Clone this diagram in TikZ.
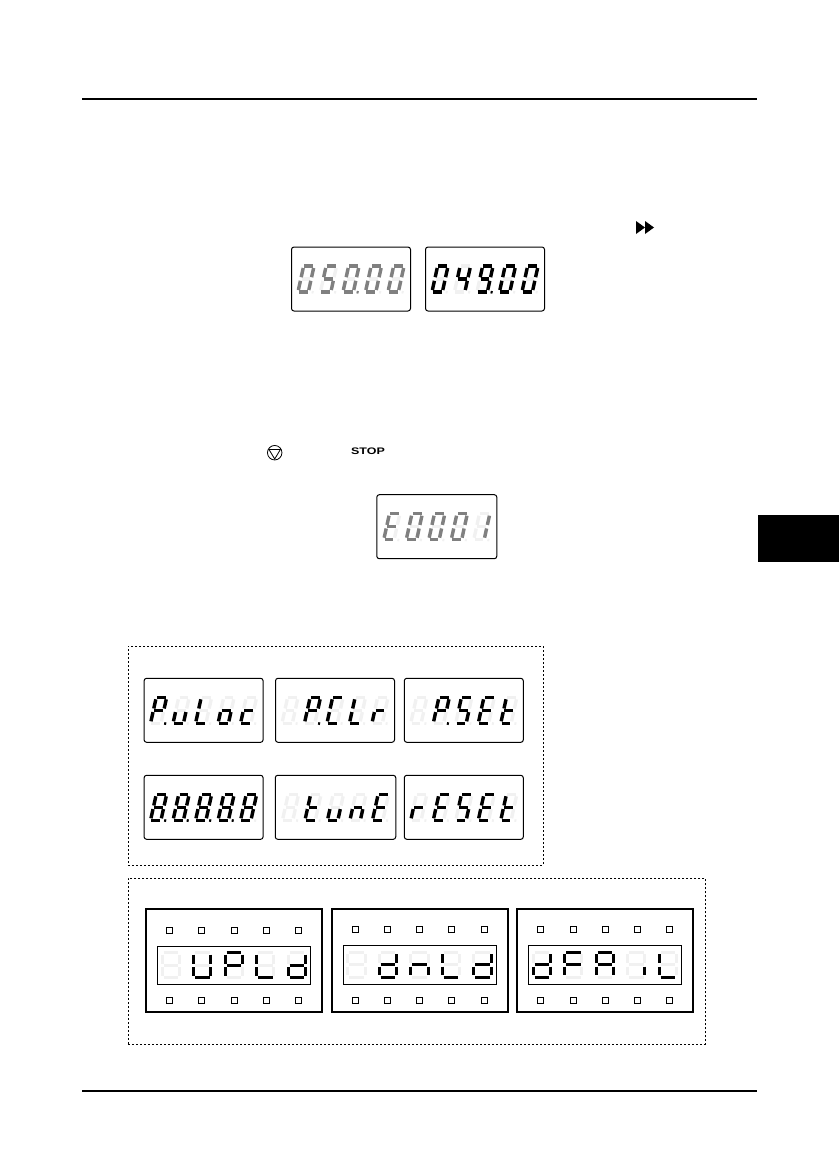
\documentclass[tikz,border=0pt]{standalone}
\usepackage{fontspec}
\setsansfont{Liberation Sans}
\usetikzlibrary{calc}

% segments of one seven-segment cell
\def\sega{\draw (-4.4,-13) -- (4.4,-13);}
\def\segb{\draw (5.2,-11) -- (5.2,-1.8);}
\def\segc{\draw (5.2,1.8) -- (5.2,11);}
\def\segd{\draw (-4.4,13) -- (4.4,13);}
\def\sege{\draw (-5.2,1.8) -- (-5.2,11);}
\def\segf{\draw (-5.2,-11) -- (-5.2,-1.8);}
\def\segg{\draw (-4.4,0) -- (4.4,0);}
\def\segp{\draw[line width=2pt] (9.5,12) -- (9.5,14.5);}
\def\segn{}

\newcommand{\ledcell}[4]{%
  \begin{scope}[shift={#1},#2,color=#3]
    \foreach \s in #4 {\csname seg\s\endcsname}
  \end{scope}}
\newcommand{\leddisp}[9][ledslant]{%
  \foreach \k/\segs in {-2/{#5},-1/{#6},0/{#7},1/{#8},2/{#9}} {
    \ledcell{($(#2.center)+(\k*#3,0)$)}{#1}{ledghost}{{a,b,c,d,e,f,g,p}}
    \ledcell{($(#2.center)+(\k*#3,0)$)}{#1}{#4}{\segs}
  }}

\definecolor{ledghost}{HTML}{F1F1F1}
\definecolor{ledgrey}{HTML}{808080}

\tikzset{
  ledslant/.style={xslant=.22,line width=3.4pt},
  ledflat/.style={xscale=1.65,yscale=.97,line width=2.9pt},
  dispbox/.style={draw,line width=1pt,rounded corners=2.5pt,inner sep=0pt,
    minimum width=119pt,minimum height=64pt},
  panelbox/.style={draw,line width=2pt,inner sep=0pt,
    minimum width=176pt,minimum height=103pt},
  panelglass/.style={draw,line width=1pt,inner sep=0pt,
    minimum width=153pt,minimum height=38.5pt},
  lamp/.style={draw,line width=1pt,inner sep=0pt,minimum size=6pt},
  dashbox/.style={draw,line width=1pt,dash pattern=on 2pt off 2pt,inner sep=0pt},
  rulebar/.style={line width=1.5pt},
}

\begin{document}
\begin{tikzpicture}[x=1pt,y=-1pt]
  \useasboundingbox (0,0) rectangle (839,1162);

  \coordinate (topa) at (82,99);
  \coordinate (topb) at (757,99);
  \coordinate (bota) at (82,1091);
  \coordinate (botb) at (757,1091);
  \draw[rulebar] (topa) -- (topb);
  \draw[rulebar] (bota) -- (botb);
  \fill (758,515) rectangle (839,562);

  % key symbols
  \fill (636,221) -- (645,227.5) -- (636,234) -- cycle;
  \fill (645,221) -- (654,227.5) -- (645,234) -- cycle;
  \node[circle,draw,line width=.8pt,inner sep=0pt,minimum size=14.5pt] (stopkey) at (274.7,452.7) {};
  \draw[line width=.8pt] (269,449.5) -- (280.4,449.5) -- (274.7,459) -- cycle;
  \node[font=\sffamily\bfseries\fontsize{9.5}{9.5}\selectfont,inner sep=0pt,xscale=1.31,transform shape] (stoptext) at (368,451) {STOP};

  % single displays
  \node[dispbox] (freqa) at (351,279) {};
  \node[dispbox] (freqb) at (485,279) {};
  \node[dispbox,minimum width=120pt] (fault) at (436.8,526.7) {};
  \leddisp{freqa}{22.5}{ledgrey}{a,b,c,d,e,f}{a,c,d,f,g}{a,b,c,d,e,f,p}{a,b,c,d,e,f}{a,b,c,d,e,f}
  \leddisp{freqb}{22.5}{black}{a,b,c,d,e,f}{b,c,f,g}{a,b,c,d,f,g,p}{a,b,c,d,e,f}{a,b,c,d,e,f}
  \leddisp{fault}{22.5}{ledgrey}{a,d,e,f,g}{a,b,c,d,e,f}{a,b,c,d,e,f}{a,b,c,d,e,f}{b,c}

  % status messages
  \node[dashbox,minimum width=415pt,minimum height=219pt] (groupa) at (335.5,755.5) {};
  \node[dispbox] (puloc) at (203.6,710.3) {};
  \node[dispbox] (pclr) at (335,710.3) {};
  \node[dispbox] (pset) at (463.8,710.3) {};
  \node[dispbox] (allon) at (203.6,807.3) {};
  \node[dispbox,minimum width=120.5pt] (tune) at (335.5,807.3) {};
  \node[dispbox] (reset) at (463.8,807.3) {};
  \leddisp{puloc}{22.5}{black}{a,b,e,f,g,p}{c,d,e}{d,e,f}{c,d,e,g}{d,e,g}
  \leddisp{pclr}{22.5}{black}{n}{a,b,e,f,g,p}{a,d,e,f}{d,e,f}{e,g}
  \leddisp{pset}{22.5}{black}{n}{a,b,e,f,g,p}{a,c,d,f,g}{a,d,e,f,g}{d,e,f,g}
  \leddisp{allon}{22.5}{black}{a,b,c,d,e,f,g,p}{a,b,c,d,e,f,g,p}{a,b,c,d,e,f,g,p}{a,b,c,d,e,f,g,p}{a,b,c,d,e,f,g}
  \leddisp{tune}{22.5}{black}{n}{d,e,f,g}{c,d,e}{c,e,g}{a,d,e,f,g}
  \leddisp{reset}{22.5}{black}{e,g}{a,d,e,f,g}{a,c,d,f,g}{a,d,e,f,g}{d,e,f,g}

  % copy panels, no points here
  \def\segp{}
  \node[dashbox,minimum width=577pt,minimum height=166pt] (groupb) at (416.5,961.3) {};
  \node[panelbox] (upload) at (234,960.5) {};
  \node[panelbox] (download) at (420,960.5) {};
  \node[panelbox] (dlfail) at (605,960.5) {};
  \node[panelglass] (uploadtxt) at (233.8,965.3) {};
  \node[panelglass] (downloadtxt) at (419.5,964.8) {};
  \node[panelglass] (dlfailtxt) at (604.8,964.8) {};
  \leddisp[ledflat]{uploadtxt}{31.5}{black}{n}{b,c,d,e,f}{a,b,e,f,g}{d,e,f}{b,c,d,e,g}
  \leddisp[ledflat]{downloadtxt}{31.5}{black}{n}{b,c,d,e,g}{c,e,g}{d,e,f}{b,c,d,e,g}
  \leddisp[ledflat]{dlfailtxt}{31.5}{black}{b,c,d,e,g}{a,e,f,g}{a,b,c,e,f,g}{c}{d,e,f}

  \foreach \x in {169.3,201.3,234.3,266.3,298.3} {
    \node[lamp] at (\x,930.3) {};
    \node[lamp] at (\x,1000.3) {};
  }
  \foreach \x in {355.3,387.3,419.3,451.3,484.3} {
    \node[lamp] at (\x,929.3) {};
    \node[lamp] at (\x,1000.3) {};
  }
  \foreach \x in {540.3,573.3,605.3,637.3,669.3} {
    \node[lamp] at (\x,929.3) {};
    \node[lamp] at (\x,1000.3) {};
  }
\end{tikzpicture}
\end{document}
